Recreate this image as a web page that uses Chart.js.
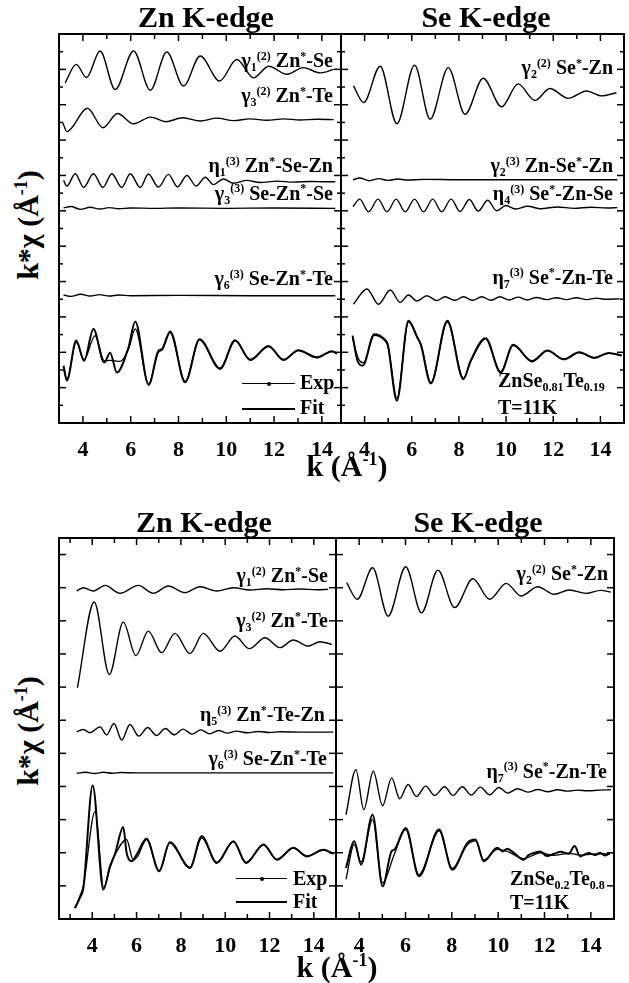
<!DOCTYPE html>
<html>
<head>
<meta charset="utf-8">
<script src="https://cdn.jsdelivr.net/npm/chart.js@4.4.0/dist/chart.umd.min.js"></script>
<style>
body{margin:0;background:#fff;width:629px;height:983px;position:relative;overflow:hidden;
  font-family:"Liberation Serif","Times New Roman",serif;font-weight:bold;color:#000}
canvas{position:absolute}
.t{position:absolute;white-space:nowrap;line-height:1}
.t sub,.t sup{font-size:0.6em;line-height:0;position:relative;vertical-align:baseline}
.t sub{top:0.35em}
.t sup{top:-0.6em}
.lg{position:absolute;height:0;border-top:1.3px solid #000}
.dot{position:absolute;width:4px;height:4px;border-radius:2px;background:#000}
</style>
</head>
<body>
<canvas id="topZn"></canvas>
<canvas id="topSe"></canvas>
<canvas id="botZn"></canvas>
<canvas id="botSe"></canvas>
<script>
// tick labels on the k axis
const kTicks = [4, 6, 8, 10, 12, 14];

// ---- top figure, Zn K-edge (ZnSe0.81Te0.19) ----  [k, k*chi + offset]
const tZn_ZnSe = [[3.26,9.62],[3.72,10.14],[4.15,9.77],[4.72,10.52],[5.35,9.43],[6.12,10.52],[6.82,9.41],[7.51,10.49],[8.21,9.53],[8.91,10.38],[9.72,9.67],[10.44,10.28],[11.14,9.76],[11.77,10.09],[12.54,9.86],[13.23,10.05],[13.93,9.90],[14.49,10.0]];
const tZn_ZnTe = [[3.16,8.49],[3.33,8.24],[4.19,8.90],[4.84,8.35],[5.45,8.75],[6.12,8.46],[6.84,8.65],[7.47,8.52],[8.18,8.63],[8.91,8.54],[9.61,8.62],[10.30,8.55],[11.0,8.60],[11.70,8.56],[12.39,8.60],[13.09,8.57],[13.79,8.59],[14.49,8.58]];
const tZn_ZnSeZn = [[3.19,6.86],[3.33,6.70],[3.68,7.05],[4.03,6.66],[4.44,7.05],[4.84,6.66],[5.21,7.05],[5.63,6.66],[5.98,7.05],[6.40,6.66],[6.74,7.04],[7.16,6.67],[7.58,7.03],[7.96,6.68],[8.35,7.0],[8.74,6.70],[9.12,6.95],[9.46,6.74],[9.88,6.90],[10.30,6.78],[10.86,6.86],[11.42,6.80],[12.12,6.84],[12.81,6.81],[13.51,6.83],[14.21,6.82],[14.56,6.82]];
const tZn_SeZnSe = [[3.19,6.08],[3.5,6.12],[3.9,6.04],[4.3,6.10],[4.7,6.05],[5.1,6.09],[5.5,6.06],[6.0,6.08],[7.0,6.07],[8.0,6.08],[10.0,6.07],[12.0,6.08],[14.56,6.07]];
const tZn_SeZnTe = [[3.19,3.62],[3.5,3.58],[3.9,3.64],[4.3,3.59],[4.7,3.63],[5.1,3.59],[5.5,3.62],[6.0,3.60],[8.0,3.61],[11.0,3.60],[14.56,3.60]];
const tZn_exp = [[3.19,1.62],[3.33,1.20],[3.72,2.33],[4.05,1.76],[4.44,2.66],[4.89,1.71],[5.14,1.99],[5.42,1.43],[5.91,2.14],[6.19,2.87],[6.75,1.08],[7.16,2.04],[7.31,2.09],[7.65,2.59],[8.28,1.15],[8.88,2.37],[9.74,1.53],[10.37,2.34],[11.0,1.78],[11.77,2.18],[12.39,1.78],[13.02,2.06],[13.79,1.85],[14.42,2.03],[14.63,1.96]];
const tZn_fit = [[3.19,1.55],[3.33,1.25],[3.72,2.28],[4.05,1.80],[4.51,2.47],[4.89,1.76],[5.14,1.77],[5.56,1.74],[5.91,2.09],[6.19,2.66],[6.75,1.10],[7.16,2.0],[7.31,2.06],[7.65,2.55],[8.28,1.18],[8.88,2.35],[9.74,1.55],[10.37,2.32],[11.0,1.80],[11.77,2.16],[12.39,1.80],[13.02,2.05],[13.79,1.87],[14.42,2.02],[14.63,1.97]];

// ---- top figure, Se K-edge ----
const tSe_SeZn = [[3.53,9.53],[3.96,9.06],[4.66,10.09],[5.37,8.46],[6.12,10.12],[6.78,8.59],[7.55,10.05],[8.26,8.73],[9.03,9.75],[9.81,8.94],[10.51,9.59],[11.22,9.12],[11.86,9.46],[12.63,9.18],[13.41,9.39],[14.04,9.25],[14.68,9.34]];
const tSe_ZnSeZn = [[3.51,6.88],[3.8,6.93],[4.2,6.85],[4.6,6.91],[5.0,6.86],[5.4,6.90],[5.8,6.87],[6.5,6.89],[8.0,6.88],[10.0,6.88],[12.0,6.88],[14.72,6.88]];
const tSe_SeZnSe = [[3.51,6.12],[3.79,6.33],[4.17,5.97],[4.57,6.33],[4.95,5.97],[5.34,6.33],[5.72,5.97],[6.12,6.33],[6.50,5.97],[6.89,6.33],[7.27,5.97],[7.67,6.33],[8.05,5.98],[8.44,6.32],[8.82,5.99],[9.22,6.30],[9.60,6.0],[9.99,6.15],[10.42,6.05],[10.91,6.13],[11.47,6.06],[12.18,6.11],[12.88,6.07],[13.59,6.10],[14.30,6.08],[14.72,6.09]];
const tSe_SeZnTe = [[3.53,3.36],[4.10,3.79],[4.59,3.36],[5.09,3.76],[5.51,3.41],[5.86,3.62],[6.22,3.45],[6.64,3.60],[7.06,3.46],[7.41,3.57],[7.84,3.47],[8.19,3.57],[8.59,3.47],[8.97,3.57],[9.35,3.47],[9.74,3.57],[10.13,3.48],[10.51,3.56],[10.90,3.48],[11.29,3.55],[11.72,3.49],[12.14,3.54],[12.56,3.49],[12.98,3.54],[13.41,3.49],[13.83,3.53],[14.25,3.50],[14.82,3.51]];
const tSe_exp = [[3.49,2.47],[3.70,1.76],[3.92,1.62],[4.41,2.51],[4.84,2.37],[4.98,2.23],[5.37,0.63],[5.86,2.89],[6.24,2.42],[6.38,2.23],[6.81,1.12],[7.51,2.89],[8.19,1.24],[8.50,1.76],[9.13,2.40],[9.77,1.43],[10.30,2.21],[11.10,1.74],[11.75,2.05],[12.45,1.80],[13.10,2.00],[13.75,1.84],[14.35,1.98],[14.90,1.91]];
const tSe_fit = [[3.49,2.40],[3.75,1.80],[3.95,1.70],[4.41,2.48],[4.84,2.34],[5.0,2.15],[5.37,0.70],[5.86,2.85],[6.24,2.40],[6.40,2.20],[6.81,1.15],[7.51,2.85],[8.19,1.27],[8.50,1.74],[9.13,2.38],[9.77,1.45],[10.30,2.19],[11.10,1.76],[11.75,2.04],[12.45,1.81],[13.10,1.99],[13.75,1.85],[14.35,1.97],[14.90,1.92]];

// ---- bottom figure, Zn K-edge (ZnSe0.2Te0.8) ----
const bZn_ZnSe = [[3.30,9.90],[3.60,10.0],[4.05,9.90],[4.58,10.07],[5.25,9.83],[6.08,10.07],[6.76,9.83],[7.43,10.05],[8.19,9.85],[8.86,10.03],[9.62,9.90],[10.37,10.0],[11.12,9.93],[11.87,9.97],[12.62,9.94],[13.38,9.96],[14.13,9.94],[14.65,9.95]];
const bZn_ZnTe = [[3.33,6.98],[4.09,9.57],[4.77,7.38],[5.40,8.96],[5.97,7.95],[6.53,8.69],[7.13,8.04],[7.73,8.62],[8.41,8.01],[9.01,8.62],[9.77,8.08],[10.44,8.54],[11.09,8.16],[11.80,8.49],[12.47,8.19],[13.07,8.42],[13.75,8.24],[14.28,8.37],[14.81,8.29]];
const bZn_ZnTeZn = [[3.30,5.65],[3.60,5.72],[3.90,5.62],[4.35,5.80],[4.65,5.56],[4.98,5.90],[5.33,5.40],[5.70,5.87],[6.10,5.52],[6.50,5.78],[6.90,5.54],[7.30,5.75],[7.70,5.56],[8.10,5.73],[8.50,5.58],[8.90,5.71],[9.30,5.59],[9.70,5.69],[10.1,5.61],[10.5,5.67],[11.0,5.62],[11.5,5.66],[12.0,5.63],[12.5,5.65],[13.5,5.64],[14.88,5.64]];
const bZn_SeZnTe = [[3.30,4.40],[3.7,4.43],[4.1,4.39],[4.5,4.43],[4.9,4.40],[5.3,4.42],[6.0,4.41],[8.0,4.41],[11.0,4.41],[14.88,4.41]];
const bZn_exp = [[3.22,0.33],[3.45,0.65],[3.60,0.94],[4.02,4.03],[4.50,0.89],[4.80,1.59],[5.03,1.97],[5.40,2.78],[5.55,2.0],[5.78,1.74],[6.0,1.94],[6.45,2.42],[7.02,1.44],[7.50,2.32],[8.41,1.54],[8.94,2.50],[9.62,1.69],[10.37,2.35],[10.94,1.69],[11.73,2.25],[12.33,1.79],[13.08,2.15],[13.68,1.89],[14.43,2.09],[14.88,1.97]];
const bZn_fit = [[3.22,0.33],[3.45,0.70],[3.60,1.0],[4.13,3.25],[4.52,0.95],[4.80,1.55],[5.03,1.94],[5.55,2.40],[5.85,1.78],[6.05,1.90],[6.45,2.40],[7.02,1.46],[7.50,2.30],[8.41,1.56],[8.94,2.45],[9.62,1.71],[10.37,2.33],[10.94,1.71],[11.73,2.23],[12.33,1.80],[13.08,2.14],[13.68,1.90],[14.43,2.08],[14.88,1.97]];

// ---- bottom figure, Se K-edge ----
const bSe_SeZn = [[3.46,10.15],[3.92,9.65],[4.58,10.60],[5.25,9.14],[6.01,10.63],[6.69,9.24],[7.40,10.53],[8.12,9.40],[8.91,10.27],[9.63,9.65],[10.35,10.13],[10.99,9.75],[11.71,10.03],[12.42,9.80],[13.07,9.93],[13.79,9.83],[14.43,9.92],[14.86,9.87]];
const bSe_SeZnTe = [[3.43,3.15],[3.86,4.51],[4.20,3.30],[4.61,4.46],[5.01,3.42],[5.40,4.26],[5.75,3.63],[6.11,4.06],[6.47,3.70],[6.87,4.01],[7.26,3.73],[7.69,3.99],[8.05,3.73],[8.45,3.99],[8.84,3.74],[9.23,3.98],[9.63,3.75],[10.03,3.97],[10.41,3.80],[10.84,3.93],[11.28,3.83],[11.71,3.91],[12.14,3.84],[12.57,3.90],[13.0,3.86],[13.43,3.89],[13.86,3.87],[14.36,3.89],[14.86,3.90]];
const bSe_exp = [[3.43,1.54],[3.79,2.35],[4.08,1.64],[4.58,3.15],[5.01,0.99],[5.40,2.05],[5.51,2.09],[6.01,2.75],[6.58,1.29],[7.45,2.70],[8.02,1.49],[8.67,2.30],[9.02,2.40],[9.38,1.74],[9.96,2.15],[10.2,2.04],[10.39,2.12],[10.7,1.98],[11.10,1.79],[11.3,1.92],[11.5,1.99],[11.82,2.04],[12.1,1.90],[12.39,1.96],[12.7,2.03],[13.04,1.97],[13.3,2.20],[13.54,1.89],[13.9,1.99],[14.2,1.93],[14.40,2.00],[14.6,1.92],[14.83,1.99]];
const bSe_fit = [[3.43,1.20],[3.79,2.25],[4.08,1.72],[4.58,3.0],[5.01,1.09],[5.51,1.94],[6.01,2.70],[6.58,1.34],[7.45,2.66],[8.02,1.53],[8.67,2.24],[9.02,2.36],[9.38,1.78],[9.96,2.10],[10.39,2.04],[11.10,1.82],[11.82,2.00],[12.39,1.92],[13.04,1.98],[13.54,1.93],[14.40,1.97],[14.83,1.96]];

const P = 8, AX = 40, W = 629;

// frame + inward ticks on all four sides, placed with the chart's own scales
const frameTicks = {
  id: 'frameTicks',
  afterDraw(chart, args, opts) {
    const {ctx, chartArea: a, scales: {x, y}} = chart;
    ctx.save();
    ctx.strokeStyle = '#000';
    ctx.lineWidth = 1.5;
    const seg = (x1, y1, x2, y2) => { ctx.beginPath(); ctx.moveTo(x1, y1); ctx.lineTo(x2, y2); ctx.stroke(); };
    for (let v = Math.ceil(x.min); v < x.max; v++) {
      const px = x.getPixelForValue(v);
      const len = kTicks.includes(v) ? 7 : 5;
      seg(px, a.bottom, px, a.bottom - len);
      seg(px, a.top, px, a.top + len);
    }
    for (let v = opts.yStep; v < y.max - 0.01; v += opts.yStep) {
      const py = y.getPixelForValue(v);
      const len = Math.abs(v - Math.round(v)) < 0.01 ? 7 : 4;
      seg(a.left, py, a.left + len, py);
      seg(a.right, py, a.right - len, py);
    }
    ctx.lineWidth = 2;
    ctx.strokeRect(a.left, a.top, a.right - a.left, a.bottom - a.top);
    ctx.restore();
  }
};

function makeChart(id, box, kMin, kMax, yMax, yStep, sets) {
  const cv = document.getElementById(id);
  const w = box.r - box.l + 2 * P, h = box.b - box.t + P + AX;
  cv.width = w; cv.height = h;
  cv.style.left = (box.l - P) + 'px';
  cv.style.top = (box.t - P) + 'px';
  cv.style.width = w + 'px'; cv.style.height = h + 'px';
  new Chart(cv, {
    type: 'line',
    data: {
      datasets: sets.map(s => ({
        data: s.pts.map(p => ({x: p[0], y: p[1]})),
        borderColor: '#000',
        borderWidth: s.w || 1.4,
        pointRadius: 0,
        cubicInterpolationMode: 'monotone',
        fill: false
      }))
    },
    options: {
      responsive: false,
      animation: false,
      devicePixelRatio: 1,
      layout: {padding: {left: P, right: P, top: P, bottom: 0}},
      plugins: {legend: {display: false}, tooltip: {enabled: false}, frameTicks: {yStep: yStep}},
      scales: {
        x: {
          type: 'linear', min: kMin, max: kMax,
          grid: {display: false}, border: {display: false},
          afterBuildTicks: s => { s.ticks = kTicks.map(v => ({value: v})); },
          afterFit: s => { s.height = AX; },
          ticks: {color: '#000', padding: 6, autoSkip: false, maxRotation: 0,
                  font: {family: 'Liberation Serif', weight: 'bold', size: 22}}
        },
        y: {type: 'linear', min: 0, max: yMax, display: false}
      }
    },
    plugins: [frameTicks]
  });
}

makeChart('topZn', {l: 59, t: 34, r: 341, b: 423}, 3, 14.8, 11, 0.5, [
  {pts: tZn_ZnSe}, {pts: tZn_ZnTe}, {pts: tZn_ZnSeZn}, {pts: tZn_SeZnSe}, {pts: tZn_SeZnTe},
  {pts: tZn_fit, w: 1.3}, {pts: tZn_exp, w: 2}
]);
makeChart('topSe', {l: 341, t: 34, r: 624, b: 423}, 3, 15, 11, 0.5, [
  {pts: tSe_SeZn}, {pts: tSe_ZnSeZn}, {pts: tSe_SeZnSe}, {pts: tSe_SeZnTe},
  {pts: tSe_fit, w: 1.3}, {pts: tSe_exp, w: 2}
]);
makeChart('botZn', {l: 59, t: 538, r: 336, b: 919}, 2.5, 15, 11.5, 1, [
  {pts: bZn_ZnSe}, {pts: bZn_ZnTe}, {pts: bZn_ZnTeZn}, {pts: bZn_SeZnTe},
  {pts: bZn_fit, w: 1.3}, {pts: bZn_exp, w: 2}
]);
makeChart('botSe', {l: 336, t: 538, r: 614, b: 919}, 3, 15, 11.5, 1, [
  {pts: bSe_SeZn}, {pts: bSe_SeZnTe},
  {pts: bSe_fit, w: 1.3}, {pts: bSe_exp, w: 2}
]);

// ---- text ----
function putText(html, x, base, size, align) {
  const d = document.createElement('div');
  d.className = 't';
  d.innerHTML = html;
  d.style.fontSize = size + 'px';
  d.style.top = (base - 0.8375 * size) + 'px';
  if (align === 'right') d.style.right = (W - x) + 'px';
  else if (align === 'center') { d.style.left = x + 'px'; d.style.transform = 'translateX(-50%)'; }
  else d.style.left = x + 'px';
  document.body.appendChild(d);
}
function yTitle(cx, cy) {
  const d = document.createElement('div');
  d.className = 't';
  d.innerHTML = 'k*χ (Å<sup>-1</sup>)';
  d.style.fontSize = '30px';
  d.style.left = cx + 'px'; d.style.top = cy + 'px';
  d.style.transform = 'translate(-50%,-50%) rotate(-90deg)';
  document.body.appendChild(d);
}
function legend(x1, x2, yExp, yFit) {
  const a = document.createElement('div'); a.className = 'lg';
  a.style.left = x1 + 'px'; a.style.width = (x2 - x1) + 'px'; a.style.top = yExp + 'px';
  document.body.appendChild(a);
  const dt = document.createElement('div'); dt.className = 'dot';
  dt.style.left = ((x1 + x2) / 2 - 2) + 'px'; dt.style.top = (yExp - 1.5) + 'px';
  document.body.appendChild(dt);
  const b = document.createElement('div'); b.className = 'lg';
  b.style.left = x1 + 'px'; b.style.width = (x2 - x1) + 'px'; b.style.top = (yFit - 0.5) + 'px';
  b.style.borderTopWidth = '2px';
  document.body.appendChild(b);
}

const g = (s, sb, sp) => s + '<sub>' + sb + '</sub><sup>(' + sp + ')</sup> ';
const st = '<sup>*</sup>';

// titles
putText('Zn K-edge', 206, 27, 30, 'center');
putText('Se K-edge', 486, 27, 30, 'center');
putText('Zn K-edge', 204, 532, 30, 'center');
putText('Se K-edge', 478, 532, 30, 'center');
putText('k (Å<sup>-1</sup>)', 347, 476, 30, 'center');
putText('k (Å<sup>-1</sup>)', 337, 977, 30, 'center');
yTitle(28, 225);
yTitle(28, 731);

// top Zn labels
putText(g('γ', 1, 2) + 'Zn' + st + '-Se', 333, 66.7, 20, 'right');
putText(g('γ', 3, 2) + 'Zn' + st + '-Te', 333, 101.7, 20, 'right');
putText(g('η', 1, 3) + 'Zn' + st + '-Se-Zn', 333, 171.7, 20, 'right');
putText(g('γ', 3, 3) + 'Se-Zn' + st + '-Se', 333, 199.3, 20, 'right');
putText(g('γ', 6, 3) + 'Se-Zn' + st + '-Te', 333, 285, 20, 'right');
legend(242, 295, 383, 408);
putText('Exp', 300, 389, 20, 'left');
putText('Fit', 300, 414, 20, 'left');

// top Se labels
putText(g('γ', 2, 2) + 'Se' + st + '-Zn', 613, 74, 20, 'right');
putText(g('γ', 2, 3) + 'Zn-Se' + st + '-Zn', 613, 171.7, 20, 'right');
putText(g('η', 4, 3) + 'Se' + st + '-Zn-Se', 613, 200, 20, 'right');
putText(g('η', 7, 3) + 'Se' + st + '-Zn-Te', 613, 283.3, 20, 'right');
putText('ZnSe<sub>0.81</sub>Te<sub>0.19</sub>', 498, 386.7, 20, 'left');
putText('T=11K', 498, 413.3, 20, 'left');

// bottom Zn labels
putText(g('γ', 1, 2) + 'Zn' + st + '-Se', 328, 581.7, 20, 'right');
putText(g('γ', 3, 2) + 'Zn' + st + '-Te', 328, 626.7, 20, 'right');
putText(g('η', 5, 3) + 'Zn' + st + '-Te-Zn', 325, 720.7, 20, 'right');
putText(g('γ', 6, 3) + 'Se-Zn' + st + '-Te', 327, 765, 20, 'right');
legend(236, 287, 878, 901);
putText('Exp', 293, 885, 20, 'left');
putText('Fit', 293, 908, 20, 'left');

// bottom Se labels
putText(g('γ', 2, 2) + 'Se' + st + '-Zn', 608, 580, 20, 'right');
putText(g('η', 7, 3) + 'Se' + st + '-Zn-Te', 607, 777.3, 20, 'right');
putText('ZnSe<sub>0.2</sub>Te<sub>0.8</sub>', 510, 885, 20, 'left');
putText('T=11K', 510, 908.3, 20, 'left');
</script>
</body>
</html>
